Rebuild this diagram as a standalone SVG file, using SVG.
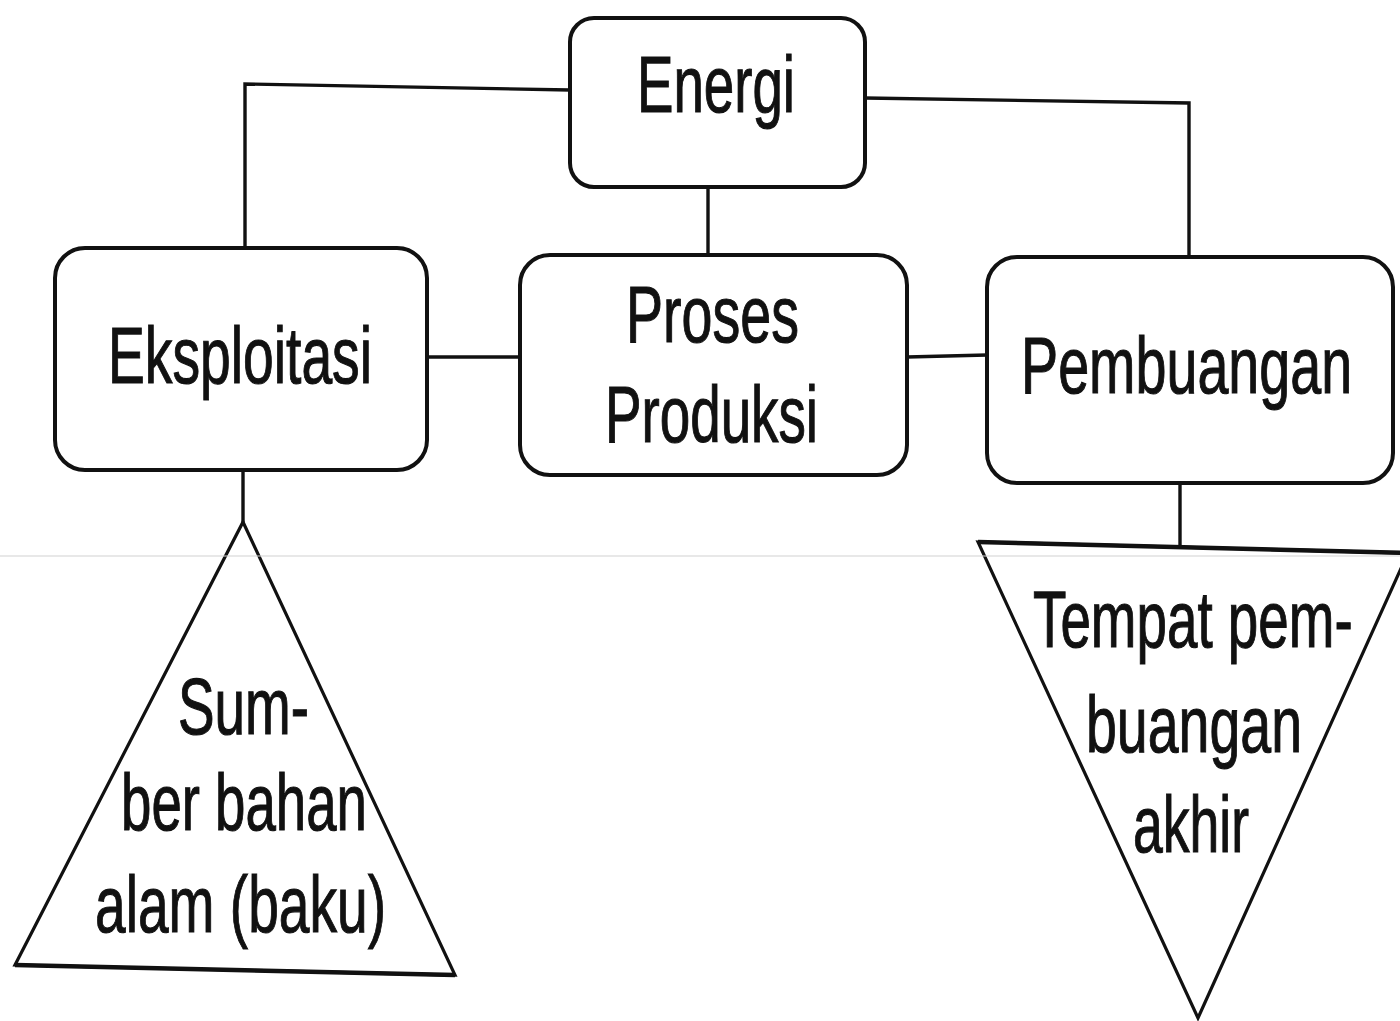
<svg xmlns="http://www.w3.org/2000/svg" width="1400" height="1021" viewBox="0 0 1400 1021">
<style>
.box{fill:#fff;stroke:#111;stroke-width:4}
.tri{fill:#fff;stroke:#111;stroke-width:3.2;stroke-linejoin:miter}
.base{fill:none;stroke:#111;stroke-width:4.5}
.con{fill:none;stroke:#111;stroke-width:3.4}
.lbl{font-family:"Liberation Sans",Arial,sans-serif;font-size:80px;fill:#111;stroke:#111;stroke-width:1.1}
.scan{stroke:#d2d2d2;stroke-width:1.2}
</style>
<rect width="1400" height="1021" fill="#fff"/>
<g id="connectors">
<path class="con" d="M570,90 L245,84 L245,249"/>
<path class="con" d="M865,98 L1189,103 L1189,258"/>
<path class="con" d="M708,187 L708,255"/>
<path class="con" d="M427,357 L520,357"/>
<path class="con" d="M907,357 L987,355"/>
<path class="con" d="M243,470 L243,522"/>
<path class="con" d="M1180,483 L1180,545"/>
</g>
<g id="energi">
<rect class="box" x="570" y="18" width="295" height="169" rx="24"/>
<text class="lbl" x="637" y="112" textLength="158" lengthAdjust="spacingAndGlyphs">Energi</text>
</g>
<g id="eksploitasi">
<rect class="box" x="55" y="248" width="372" height="222" rx="30"/>
<text class="lbl" x="108" y="383" textLength="264" lengthAdjust="spacingAndGlyphs">Eksploitasi</text>
</g>
<g id="proses-produksi">
<rect class="box" x="520" y="255" width="387" height="220" rx="30"/>
<text class="lbl" x="626" y="342" textLength="173" lengthAdjust="spacingAndGlyphs">Proses</text>
<text class="lbl" x="605" y="442" textLength="213" lengthAdjust="spacingAndGlyphs">Produksi</text>
</g>
<g id="pembuangan">
<rect class="box" x="987" y="257" width="406" height="226" rx="30"/>
<text class="lbl" transform="translate(1021,393) scale(0.696,1)" x="0" y="0">Pembuangan</text>
</g>
<g id="sumber-bahan">
<polygon class="tri" points="243,522 455,975 15,965"/>
<path class="base" d="M15,965 L455,975"/>
<text class="lbl" x="178" y="734" textLength="131" lengthAdjust="spacingAndGlyphs">Sum-</text>
<text class="lbl" x="121" y="830" textLength="246" lengthAdjust="spacingAndGlyphs">ber bahan</text>
<text class="lbl" x="95" y="932" textLength="291" lengthAdjust="spacingAndGlyphs">alam (baku)</text>
</g>
<g id="tempat-pembuangan">
<polygon class="tri" points="978,542 1408,553 1198,1018"/>
<path class="base" d="M978,542 L1408,553"/>
<text class="lbl" transform="translate(1033,647) scale(0.685,1)" x="0" y="0">Tempat pem-</text>
<text class="lbl" x="1086" y="752" textLength="216" lengthAdjust="spacingAndGlyphs">buangan</text>
<text class="lbl" x="1133" y="852" textLength="116" lengthAdjust="spacingAndGlyphs">akhir</text>
</g>
<line class="scan" x1="0" y1="556" x2="1400" y2="556"/>
</svg>
